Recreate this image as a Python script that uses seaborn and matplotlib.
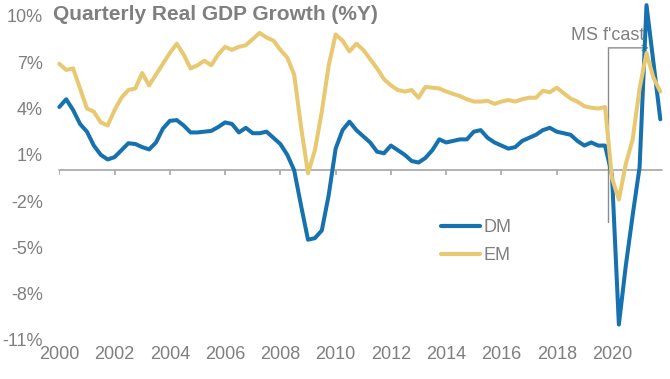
import numpy as np
import pandas as pd
import matplotlib
matplotlib.use("Agg")
import matplotlib.pyplot as plt
import seaborn as sns

# ---------------- data ----------------
start_year = 2000
quarters_per_year = 4
dm_growth = [
    4.1, 4.6, 3.9, 3.0, 2.5, 1.6, 1.0, 0.7,        # 2000-2001
    0.85, 1.3, 1.75, 1.7, 1.5, 1.35, 1.8, 2.7,      # 2002-2003
    3.2, 3.25, 2.9, 2.45, 2.45, 2.5, 2.55, 2.8,     # 2004-2005
    3.1, 3.0, 2.45, 2.75, 2.4, 2.4, 2.5, 2.1,       # 2006-2007
    1.7, 1.0, 0.0, -2.3, -4.5, -4.4, -3.9, -1.6,    # 2008-2009
    1.4, 2.6, 3.15, 2.6, 2.2, 1.8, 1.2, 1.1,        # 2010-2011
    1.6, 1.3, 1.0, 0.6, 0.5, 0.8, 1.3, 2.0,         # 2012-2013
    1.8, 1.9, 2.0, 2.0, 2.5, 2.6, 2.1, 1.8,         # 2014-2015
    1.6, 1.4, 1.5, 1.9, 2.1, 2.3, 2.6, 2.75,        # 2016-2017
    2.5, 2.4, 2.3, 1.9, 1.6, 1.8, 1.6, 1.6,         # 2018-2019
    -0.3, -10.0, -6.2, -2.9, 0.2, 10.7, 7.0, 3.3,   # 2020-2021
]
em_growth = [
    6.9, 6.5, 6.6, 5.3, 4.0, 3.8, 3.1, 2.9,         # 2000-2001
    3.9, 4.7, 5.2, 5.3, 6.3, 5.5, 6.2, 6.9,         # 2002-2003
    7.6, 8.2, 7.5, 6.6, 6.8, 7.1, 6.8, 7.5,         # 2004-2005
    8.0, 7.8, 8.0, 8.1, 8.5, 8.9, 8.6, 8.4,         # 2006-2007
    7.8, 7.3, 6.2, 2.8, -0.2, 1.3, 3.8, 6.8,        # 2008-2009
    8.8, 8.4, 7.7, 8.2, 7.8, 7.2, 6.6, 5.9,         # 2010-2011
    5.5, 5.2, 5.1, 5.2, 4.7, 5.4, 5.35, 5.3,        # 2012-2013
    5.1, 4.95, 4.8, 4.6, 4.45, 4.45, 4.5, 4.3,      # 2014-2015
    4.45, 4.55, 4.45, 4.6, 4.7, 4.7, 5.15, 5.05,    # 2016-2017
    5.35, 5.0, 4.65, 4.45, 4.15, 4.05, 4.0, 4.1,    # 2018-2019
    -0.5, -1.9, 0.4, 2.0, 5.3, 7.6, 6.0, 5.1,       # 2020-2021
]
series_names = ["DM", "EM"]
year_ticks = [2000, 2002, 2004, 2006, 2008, 2010, 2012, 2014, 2016, 2018, 2020]
pct_ticks = [10, 7, 4, 1, -2, -5, -8, -11]
pct_labels = ["10%", "7%", "4%", "1%", "-2%", "-5%", "-8%", "-11%"]
title_text = "Quarterly Real GDP Growth (%Y)"
forecast_label = "MS f'cast"

# ---------------- build table ----------------
n = len(dm_growth)
dates = [start_year + i / quarters_per_year for i in range(n)]
df = pd.DataFrame({
    "date": dates * 2,
    "growth": dm_growth + em_growth,
    "series": [series_names[0]] * n + [series_names[1]] * n,
})

# ---------------- style ----------------
sns.set_style("white")
plt.rcParams["font.family"] = ["Liberation Sans", "DejaVu Sans"]
GREY = "#7f7f7f"
AXGREY = "#a6a6a6"
palette = {"DM": "#1672AF", "EM": "#E8C871"}

W, H = 670, 379
fig = plt.figure(figsize=(W / 100, H / 100), dpi=100)
left_px, right_px = 59.3, 661.7
top_px, bottom_px = 0.5, 340.0
ax = fig.add_axes([left_px / W, 1 - bottom_px / H,
                   (right_px - left_px) / W, (bottom_px - top_px) / H])

# zero line and its tick marks
ax.axhline(0, color=AXGREY, lw=1.2, zorder=1)
ax.vlines(year_ticks, -0.28, 0, color=AXGREY, lw=1.2, zorder=1)

sns.lineplot(data=df, x="date", y="growth", hue="series", palette=palette,
             linewidth=2.9, ax=ax, legend=True, zorder=3)
for ln in ax.get_lines():
    if ln.get_color() in palette.values() or True:
        ln.set_solid_capstyle("round")
        ln.set_solid_joinstyle("round")
        ln.set_clip_on(False)

ax.set_xlim(2000, 2021.8)
ax.set_ylim(-11, 11)

# y axis
ax.set_yticks(pct_ticks)
ax.set_yticklabels(pct_labels)
ax.tick_params(axis="y", length=0, pad=12, labelsize=13, labelcolor=GREY)

# x axis labels at bottom, without ticks
ax.set_xticks(year_ticks)
ax.set_xticklabels([str(y) for y in year_ticks])
ax.tick_params(axis="x", length=0, pad=4, labelsize=13, labelcolor=GREY)
ax.set_xlabel("")
ax.set_ylabel("")
for s in ax.spines.values():
    s.set_visible(False)

# title
fig.text(53 / W, 1 - 15 / H, title_text, fontsize=15, fontweight="bold",
         color=GREY, ha="left", va="center")

# forecast bracket
fc_x, fc_top, fc_bot, fc_end = 2019.87, 7.93, -3.33, 2021.33
ax.plot([fc_x, fc_x], [fc_bot, fc_top], color="#8c8c8c", lw=1.0, zorder=2)
ax.annotate("", xy=(fc_end, fc_top), xytext=(fc_x, fc_top),
            arrowprops=dict(arrowstyle="->", color="#8c8c8c", lw=1.0,
                            mutation_scale=9, shrinkA=0, shrinkB=0),
            zorder=2)
ax.text(2021.18, 8.75, forecast_label, fontsize=13, color=GREY,
        ha="right", va="center")

# legend
handles, labels = ax.get_legend_handles_labels()
leg = ax.legend(handles, labels, loc="upper left",
                bbox_to_anchor=(441 / W, 1 - 219 / H),
                bbox_transform=fig.transFigure, frameon=False,
                fontsize=13, handlelength=2.15, handletextpad=0.2,
                labelspacing=0.6, borderpad=0, borderaxespad=0)
for t in leg.get_texts():
    t.set_color(GREY)
for lh in leg.get_lines():
    lh.set_linewidth(3.0)

fig.savefig("out.png", dpi=100)
